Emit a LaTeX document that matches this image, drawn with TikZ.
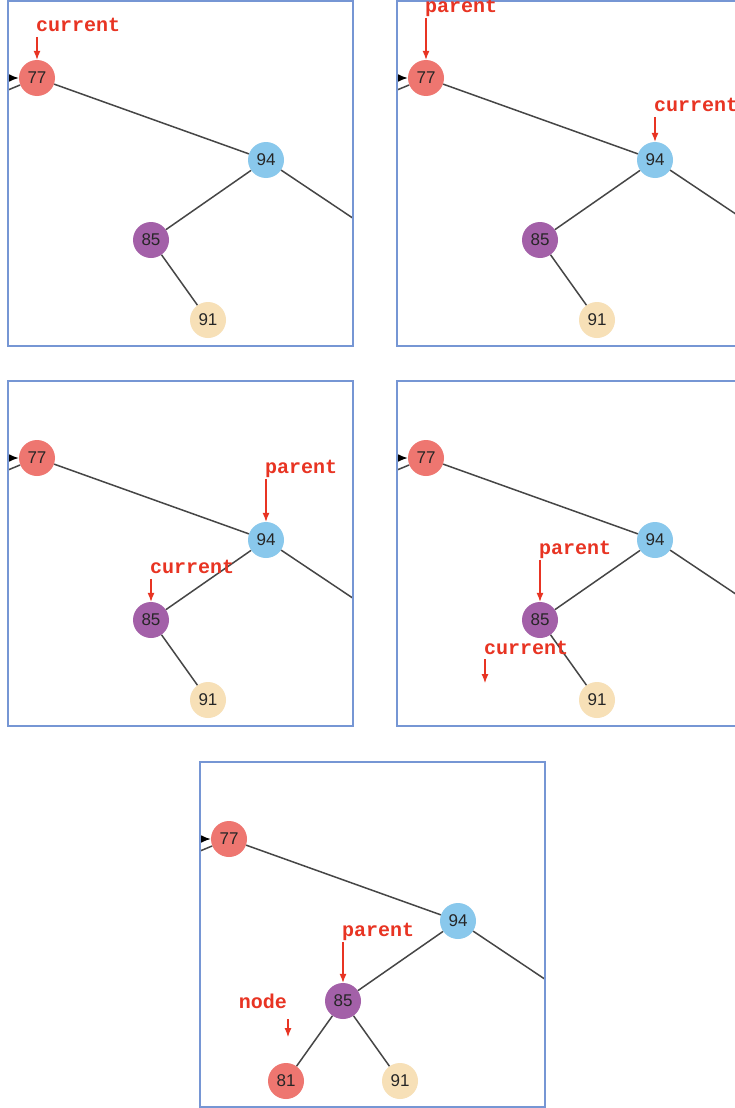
\documentclass[tikz,border=0pt]{standalone}
\usepackage{fontspec}
\setmainfont{Liberation Sans}
\newfontfamily\ptrfont{Liberation Mono}
\usetikzlibrary{arrows.meta,positioning}

\definecolor{keyred}{RGB}{238,118,112}
\definecolor{keyblue}{RGB}{137,200,236}
\definecolor{keypurple}{RGB}{163,96,168}
\definecolor{keysand}{RGB}{247,224,183}
\definecolor{ptrred}{RGB}{232,52,35}
\definecolor{framecol}{RGB}{118,150,212}
\definecolor{linkgray}{RGB}{70,70,70}

\tikzset{
  keynode/.style={circle, minimum size=36pt, inner sep=0pt, text=black!85,
    font=\fontsize{17}{17}\selectfont},
  link/.style={draw=linkgray, line width=1.5pt},
  panelframe/.style={draw=framecol, line width=1.5pt},
  ptr/.style={draw=ptrred, line width=1.1pt, -{Latex[length=9pt,width=7pt]}},
  ptrlabel/.style={text=ptrred, inner sep=0pt, anchor=base west,
    font=\ptrfont\bfseries\fontsize{20}{20}\selectfont}
}

% one snapshot of the subtree: frame, keys 77/94/85/91 and their links
\newcommand{\bstpanel}[3]{%
  \begin{scope}[shift={(#2,#3)}]
    \begin{scope}
      \clip (0,0) rectangle (345,345);
      \node [keynode, fill=keyred]    at (29,77)   (#1-77) {77};
      \node [keynode, fill=keyblue]   at (258,159) (#1-94) {94};
      \node [keynode, fill=keypurple] at (143,239) (#1-85) {85};
      \node [keynode, fill=keysand]   at (200,319) (#1-91) {91};
      \coordinate (#1-in)  at (-20,77);
      \coordinate (#1-out) at (-29,101);
      \coordinate (#1-rt)  at (400,254);
      \draw[link, draw=black, -{Latex[length=10pt,width=8pt]}] (#1-in) -- (#1-77);
      \draw[link] (#1-77) -- (#1-out);
      \draw[link] (#1-77) -- (#1-94);
      \draw[link] (#1-94) -- (#1-85);
      \draw[link] (#1-94) -- (#1-rt);
      \draw[link] (#1-85) -- (#1-91);
    \end{scope}
    \draw[panelframe] (0,0) rectangle (345,345);
  \end{scope}}

\begin{document}
\begin{tikzpicture}[x=1pt, y=-1pt]
\useasboundingbox (0,0) rectangle (735,1108);
\fill[white] (0,0) rectangle (735,1108);
%
\bstpanel{p1}{8}{1}
\bstpanel{p2}{397}{1}
\bstpanel{p3}{8}{381}
\bstpanel{p4}{397}{381}
\bstpanel{p5}{200}{762}
%
\node [keynode, fill=keyred] at (286,1081) (p5-81) {81};
\draw[link] (p5-85) -- (p5-81);
%
% step 1
\coordinate [above=23pt of p1-77] (p1-c);
\draw[ptr] (p1-c) -- (p1-77);
\node [ptrlabel] at ([xshift=-1pt,yshift=5pt]p1-c) (p1-ct) {current};
%
% step 2
\coordinate [above=42pt of p2-77] (p2-p);
\draw[ptr] (p2-p) -- (p2-77);
\node [ptrlabel] at ([xshift=-1pt,yshift=5pt]p2-p) (p2-pt) {parent};
\coordinate [above=25pt of p2-94] (p2-c);
\draw[ptr] (p2-c) -- (p2-94);
\node [ptrlabel] at ([xshift=-1pt,yshift=5pt]p2-c) (p2-ct) {current};
%
% step 3
\coordinate [above=43pt of p3-94] (p3-p);
\draw[ptr] (p3-p) -- (p3-94);
\node [ptrlabel] at ([xshift=-1pt,yshift=5pt]p3-p) (p3-pt) {parent};
\coordinate [above=23pt of p3-85] (p3-c);
\draw[ptr] (p3-c) -- (p3-85);
\node [ptrlabel] at ([xshift=-1pt,yshift=5pt]p3-c) (p3-ct) {current};
%
% step 4
\coordinate [above=42pt of p4-85] (p4-p);
\draw[ptr] (p4-p) -- (p4-85);
\node [ptrlabel] at ([xshift=-1pt,yshift=5pt]p4-p) (p4-pt) {parent};
\coordinate (p4-c) at (485,659);
\coordinate (p4-nil) at (485,683);
\draw[ptr] (p4-c) -- (p4-nil);
\node [ptrlabel] at ([xshift=-1pt,yshift=5pt]p4-c) (p4-ct) {current};
%
% step 5
\coordinate [above=41pt of p5-85] (p5-p);
\draw[ptr] (p5-p) -- (p5-85);
\node [ptrlabel] at ([xshift=-1pt,yshift=5pt]p5-p) (p5-pt) {parent};
\coordinate (p5-n) at (288,1019);
\coordinate (p5-nil) at (288,1037);
\draw[ptr] (p5-n) -- (p5-nil);
\node [ptrlabel, anchor=base east] at ([xshift=-1pt,yshift=11pt]p5-n) (p5-nt) {node};
\end{tikzpicture}
\end{document}
